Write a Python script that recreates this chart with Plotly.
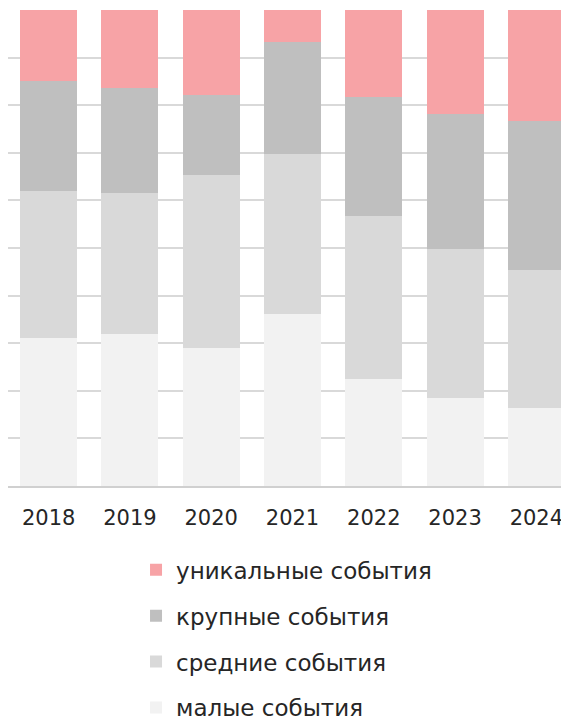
import plotly.graph_objects as go

years = ["2018", "2019", "2020", "2021", "2022", "2023", "2024"]
small = [31.1, 31.9, 29.0, 36.1, 22.5, 18.5, 16.4]
medium = [30.9, 29.6, 36.3, 33.6, 34.2, 31.3, 29.0]
large = [23.1, 22.1, 16.8, 23.5, 25.0, 28.4, 31.3]
unique = [14.9, 16.4, 17.9, 6.8, 18.3, 21.8, 23.3]

series = [
    ("малые события", small, "#F2F2F2"),
    ("средние события", medium, "#D9D9D9"),
    ("крупные события", large, "#BFBFBF"),
    ("уникальные события", unique, "#F7A3A6"),
]

fig = go.Figure()
for i, (name, vals, col) in enumerate(series):
    fig.add_trace(go.Bar(x=list(range(len(years))), y=vals, name=name,
                         marker=dict(color=col, line=dict(width=0)),
                         legendgroup=f"g{i}", legendrank=100 - i))

fig.update_layout(
    width=569, height=716,
    barmode="stack", bargap=0.3,
    margin=dict(l=0, r=0, t=2, b=238, autoexpand=False),
    plot_bgcolor="white", paper_bgcolor="white",
    font=dict(family="DejaVu Sans, sans-serif", size=21, color="#262626"),
    xaxis=dict(tickmode="array", tickvals=list(range(len(years))), ticktext=years,
               range=[-0.5, 6.5], showgrid=False, showline=True, automargin=False,
               linecolor="#D0D0D0", linewidth=2, ticks="", tickfont=dict(size=21),
               ticklabelstandoff=12),
    yaxis=dict(range=[0, 100], dtick=10, showgrid=True, gridcolor="#D9D9D9",
               gridwidth=2, showticklabels=False, zeroline=False, ticks="",
               automargin=False),
    legend=dict(orientation="v", x=0.225, xanchor="left", y=-0.131, yanchor="top",
                traceorder="grouped", tracegroupgap=13,
                font=dict(size=23, color="#262626")),
    showlegend=True,
)
fig.write_html("out.html")
